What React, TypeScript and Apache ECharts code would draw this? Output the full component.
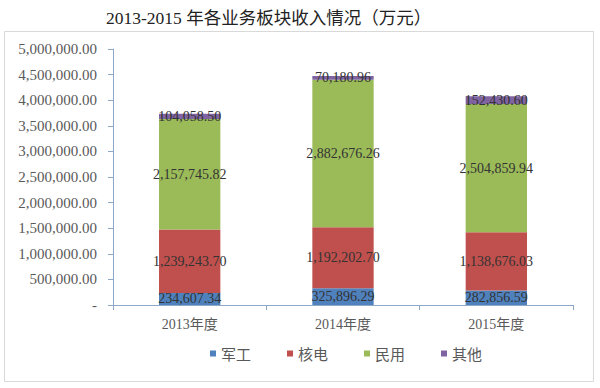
import React, { useEffect, useRef } from "react";
import * as echarts from "echarts";

const categories = ["2013年度", "2014年度", "2015年度"];
const seriesNames = ["军工", "核电", "民用", "其他"];
const junGong = [234607.34, 325896.29, 282856.59];
const heDian = [1239243.7, 1192202.7, 1138676.03];
const minYong = [2157745.82, 2882676.26, 2504859.94];
const qiTa = [104058.5, 70180.96, 152430.6];
const colors = ["#4F81BD", "#C0504D", "#9BBB59", "#8064A2"];

const fmt = (v: number) =>
  v === 0
    ? "-"
    : v.toLocaleString("en-US", { minimumFractionDigits: 2, maximumFractionDigits: 2 });

export default function App() {
  const ref = useRef<HTMLDivElement>(null);
  useEffect(() => {
    document.body.style.margin = "0";
    const chart = echarts.init(ref.current!, null, { renderer: "svg" });
    const dataSets = [junGong, heDian, minYong, qiTa];
    chart.setOption({
      animation: false,
      backgroundColor: "#fff",
      title: {
        text: "2013-2015 年各业务板块收入情况（万元）",
        left: 101,
        top: 4,
        textStyle: {
          fontFamily: "'Liberation Serif', 'Noto Sans CJK SC', serif",
          fontSize: 17.5,
          fontWeight: "normal",
          color: "#222",
        },
      },
      graphic: [
        {
          type: "rect",
          shape: { x: 4.5, y: 31.5, width: 589, height: 350 },
          style: { fill: "none", stroke: "#D9D9D9", lineWidth: 1 },
          silent: true,
        },
      ],
      legend: {
        top: 341,
        left: 205,
        icon: "rect",
        itemWidth: 6,
        itemHeight: 6,
        itemGap: 36,
        textStyle: { fontFamily: "'Noto Sans CJK SC', sans-serif", fontSize: 15, color: "#595959" },
        data: seriesNames,
      },
      grid: { left: 113, right: 27, top: 49, bottom: 83 },
      xAxis: {
        type: "category",
        data: categories,
        axisLine: { lineStyle: { color: "#8EA9C8" } },
        axisTick: { show: true, length: 5, lineStyle: { color: "#8EA9C8" } },
        axisLabel: {
          fontFamily: "'Liberation Serif', 'Noto Sans CJK SC', serif",
          fontSize: 14,
          color: "#595959",
          margin: 12,
        },
      },
      yAxis: {
        type: "value",
        min: 0,
        max: 5000000,
        interval: 500000,
        axisLine: { show: true, lineStyle: { color: "#8EA9C8" } },
        axisTick: { show: true, length: 5, lineStyle: { color: "#8EA9C8" } },
        splitLine: { show: false },
        axisLabel: {
          fontFamily: "'Liberation Serif', serif",
          fontSize: 15,
          color: "#595959",
          margin: 16,
          formatter: (v: number) => fmt(v),
        },
      },
      series: seriesNames.map((name, i) => ({
        name,
        type: "bar",
        stack: "total",
        barWidth: "40%",
        data: dataSets[i],
        itemStyle: { color: colors[i] },
        label: {
          show: true,
          position: "inside",
          fontFamily: "'Liberation Serif', serif",
          fontSize: 14,
          color: "#333",
          formatter: (p: any) => fmt(p.value),
        },
      })),
    });
    return () => chart.dispose();
  }, []);
  return <div ref={ref} style={{ width: 600, height: 388 }} />;
}
